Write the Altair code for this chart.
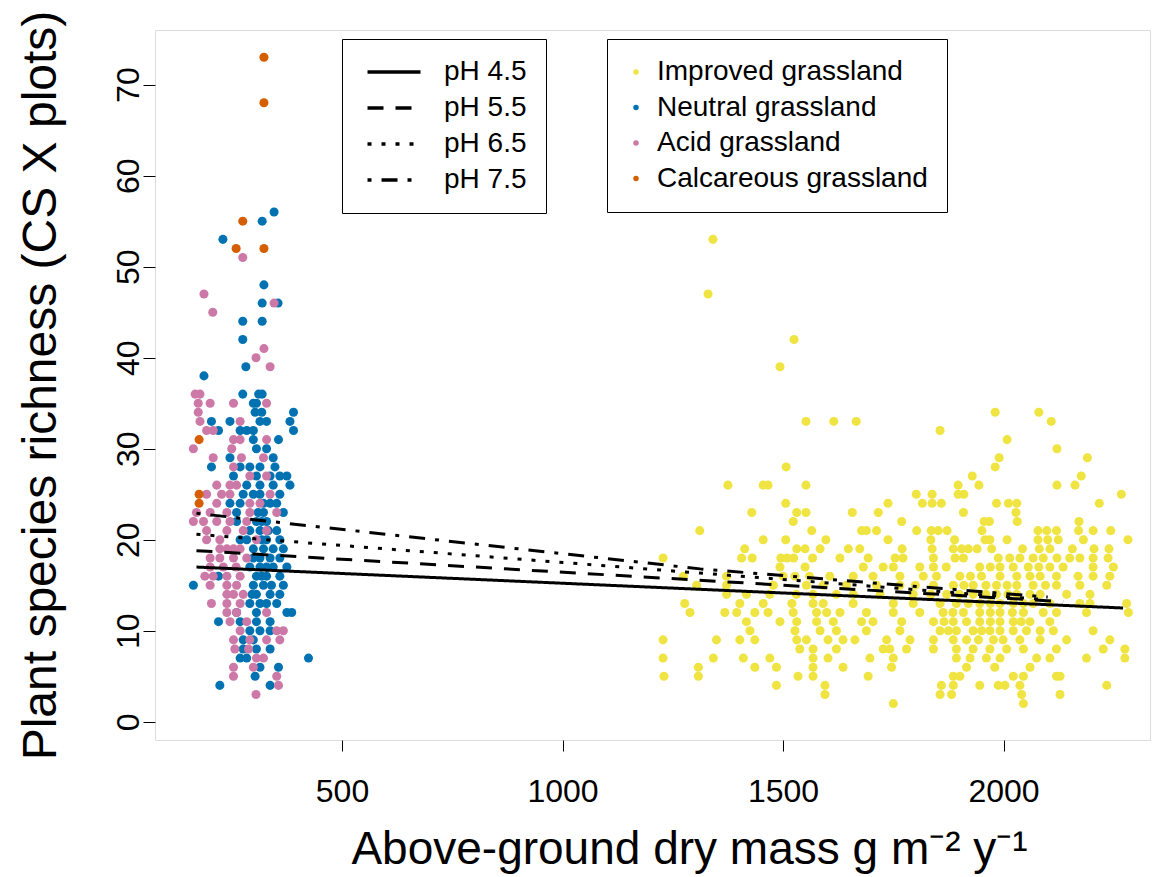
import altair as alt
import pandas as pd

# ---------------- data ----------------
group_names = ["Improved grassland", "Neutral grassland", "Acid grassland", "Calcareous grassland"]
group_colors = ["#F0E442", "#0072B2", "#CC79A7", "#D55E00"]

# Improved grassland: richness rows and the masses seen on each row
improved_rows_y = [53, 47, 42, 39, 34, 33, 32, 31, 30, 29, 28, 27, 26, 25, 24, 23, 22, 21, 20, 19,
                   18, 17, 16, 15, 14, 13, 12, 11, 10, 9, 8, 7, 6, 5, 4, 3, 2]
improved_rows_x = [
    [1341], [1330], [1525], [1493], [1981, 2080], [1552, 1615, 1666, 2108], [1856], [2008], [2121],
    [1990, 2190], [1507, 1981], [1929, 2176],
    [1375, 1455, 1466, 1552, 1897, 1944, 2121, 2162],
    [1802, 1838, 1897, 1910, 2267],
    [1506, 1738, 1816, 1838, 1859, 1984, 2011, 2030, 2217],
    [1429, 1531, 1552, 1657, 1716, 1909, 2028],
    [1523, 1769, 1956, 1968, 2031, 2171],
    [1311, 1565, 1678, 1689, 1712, 1803, 1836, 1852, 1872, 1951, 2078, 2098, 2120, 2170, 2203, 2243],
    [1455, 1506, 1597, 1738, 1835, 1889, 1958, 1969, 2008, 2078, 2100, 2124, 2181, 2282],
    [1413, 1531, 1550, 1584, 1648, 1674, 1770, 1838, 1886, 1905, 1920, 1940, 1973, 2043, 2081, 2105,
     2156, 2205, 2239],
    [1228, 1406, 1430, 1495, 1509, 1524, 1567, 1629, 1693, 1754, 1772, 1841, 1890, 1909, 1988, 2014,
     2037, 2067, 2090, 2121, 2150, 2173, 2203, 2237],
    [1493, 1550, 1682, 1727, 1750, 1810, 1841, 1870, 1946, 1970, 1992, 2022, 2056, 2080, 2105, 2135,
     2203, 2249],
    [1274, 1372, 1500, 1527, 1560, 1606, 1659, 1704, 1765, 1818, 1848, 1901, 1925, 1950, 1992, 2030,
     2060, 2083, 2120, 2169, 2203, 2241],
    [1304, 1372, 1478, 1553, 1591, 1644, 1712, 1765, 1800, 1841, 1886, 1910, 1931, 1960, 1984, 2008,
     2030, 2067, 2095, 2120, 2173, 2234],
    [1372, 1417, 1470, 1530, 1568, 1621, 1659, 1720, 1795, 1835, 1871, 1900, 1931, 1960, 1984, 2010,
     2030, 2060, 2083, 2143, 2196],
    [1277, 1402, 1455, 1520, 1568, 1591, 1659, 1750, 1795, 1856, 1893, 1920, 1946, 1970, 1992, 2022,
     2045, 2067, 2105, 2173, 2196, 2279],
    [1289, 1368, 1395, 1436, 1466, 1523, 1576, 1599, 1629, 1689, 1750, 1810, 1863, 1885, 1909, 1946,
     1970, 1992, 2020, 2045, 2090, 2120, 2188, 2283],
    [1417, 1493, 1531, 1576, 1614, 1678, 1704, 1769, 1841, 1865, 1886, 1916, 1946, 1970, 1992, 2022,
     2040, 2060, 2105],
    [1425, 1527, 1584, 1621, 1689, 1765, 1856, 1875, 1893, 1931, 1950, 1969, 1992, 2022, 2052, 2083,
     2113, 2203],
    [1228, 1349, 1402, 1436, 1531, 1553, 1602, 1636, 1663, 1735, 1788, 1841, 1886, 1916, 1943, 1977,
     1999, 2037, 2083, 2143, 2241],
    [1538, 1568, 1621, 1727, 1742, 1780, 1841, 1893, 1931, 1969, 2007, 2045, 2120, 2226, 2275],
    [1228, 1342, 1410, 1470, 1568, 1602, 1697, 1750, 1893, 1924, 1961, 1992, 2075, 2105, 2188, 2275],
    [1308, 1436, 1485, 1568, 1636, 1746, 1916, 1980, 2060],
    [1230, 1308, 1534, 1568, 1693, 1886, 1901, 2022, 2045, 2120, 2128],
    [1485, 1595, 1859, 1886, 1946, 1988, 2003, 2037, 2234],
    [1595, 1856, 1882, 2041, 2128],
    [1750, 2045],
]

# Neutral grassland
neutral_rows_y = [56, 55, 53, 48, 46, 44, 42, 39, 38, 36, 35, 34, 33, 32, 31, 30, 29, 28, 27, 26, 25,
                  24, 23, 22, 21, 20, 19, 18, 17, 16, 15, 14, 13, 12, 11, 10, 9, 8, 7, 6, 5, 4]
neutral_rows_x = [
    [346], [319], [230], [323], [319, 355], [275, 319], [275], [282], [187], [275, 311, 319],
    [299, 306], [303, 318, 390], [204, 246, 314, 329, 382], [220, 269, 284, 299, 390], [299, 356],
    [306, 329], [246, 344], [204, 269, 291, 314, 348], [254, 306, 337, 359, 375],
    [284, 314, 344, 382], [276, 299, 314, 359], [246, 269, 322, 337, 352], [261, 310, 322, 367],
    [261, 306, 318, 329], [291, 314, 333, 352], [269, 284, 318, 329, 359], [299, 322, 344, 367],
    [299, 314, 337, 359], [291, 314, 329, 344, 375], [220, 306, 318, 329, 359],
    [163, 299, 322, 340, 367], [296, 306, 337, 359], [291, 314, 329, 352], [261, 306, 375, 386],
    [220, 269, 306, 337], [291, 314, 337], [276, 299], [276, 306, 337], [269, 284, 424],
    [314, 356], [303], [223, 337],
]

# Acid grassland
acid_rows_y = [51, 47, 46, 45, 41, 40, 39, 36, 35, 34, 33, 32, 31, 30, 29, 28, 27, 26, 25, 24, 23,
               22, 21, 20, 19, 18, 17, 16, 15, 14, 13, 12, 11, 10, 9, 8, 7, 6, 5, 4, 3]
acid_rows_x = [
    [275], [187], [346], [207], [323], [305], [337], [167, 178], [174, 201, 254, 329], [174],
    [178, 269], [193, 208], [254, 269, 329], [163, 250], [208, 272, 322], [254], [291, 329],
    [216, 246, 261], [193, 227, 246, 337], [216, 291, 314], [170, 201, 239, 291, 352],
    [163, 186, 216, 246, 284], [193, 239, 276, 329], [193, 223, 306], [223, 239, 254, 269],
    [201, 223, 254, 284], [201, 231, 260], [189, 208, 239, 269], [201, 239, 261], [239, 254, 276],
    [204, 239, 269], [239, 261, 329], [246, 284], [269, 352, 367], [254, 291, 329, 359],
    [257, 288], [306, 322], [254, 299], [254, 352], [356], [305],
]

# Calcareous grassland
calcareous_x = [323, 323, 275, 260, 323, 176, 176, 176]
calcareous_y = [73, 68, 55, 52, 52, 31, 25, 24]

# Fitted lines at four pH values
line_names = ["pH 4.5", "pH 5.5", "pH 6.5", "pH 7.5"]
line_dashes = [[1, 0], [16, 12], [4, 10], [4, 10, 16, 10]]
ph45_x = [170, 2271]
ph45_y = [17.0, 12.5]
ph55_x = [170, 2135]
ph55_y = [18.8, 13.2]
ph65_x = [170, 2100]
ph65_y = [20.6, 13.4]
ph75_x = [170, 1312, 2100]
ph75_y = [22.9, 16.8, 13.7]

x_ticks = [500, 1000, 1500, 2000]
y_ticks = [0, 10, 20, 30, 40, 50, 60, 70]

# ---------------- tables ----------------
pts = []
for name, ys, xss in [(group_names[0], improved_rows_y, improved_rows_x),
                      (group_names[1], neutral_rows_y, neutral_rows_x),
                      (group_names[2], acid_rows_y, acid_rows_x)]:
    for yv, xs in zip(ys, xss):
        for xv in xs:
            pts.append({"mass": xv, "rich": yv, "group": name})
for xv, yv in zip(calcareous_x, calcareous_y):
    pts.append({"mass": xv, "rich": yv, "group": group_names[3]})
points_df = pd.DataFrame(pts)

lns = []
for name, xs, ys in zip(line_names, [ph45_x, ph55_x, ph65_x, ph75_x], [ph45_y, ph55_y, ph65_y, ph75_y]):
    for i, (xv, yv) in enumerate(zip(xs, ys)):
        lns.append({"mass": xv, "rich": yv, "ph": name, "i": i})
lines_df = pd.DataFrame(lns)

FONT = "Liberation Sans"

x_scale = alt.Scale(domain=[76, 2332], nice=False, zero=False)
y_scale = alt.Scale(domain=[-2, 76], nice=False, zero=False)

x_axis = alt.Axis(values=x_ticks, format="d", grid=False, domain=False, tickSize=11, tickColor="black",
                  labelFontSize=32, labelColor="black", labelBaseline="alphabetic", labelPadding=50,
                  labelFont=FONT, title="Above-ground dry mass g m\u207b\u00b2 y\u207b\u00b9",
                  titleFontSize=46, titleFont=FONT, titleFontWeight="normal", titleColor="black",
                  titleX=534, titleY=123, titleAlign="center", titleBaseline="alphabetic")
y_axis = alt.Axis(values=y_ticks, format="d", grid=False, domain=False, tickSize=12, tickColor="black",
                  labelFontSize=32, labelColor="black", labelAngle=270, labelAlign="center",
                  labelBaseline="alphabetic", labelPadding=5, labelFont=FONT,
                  title="Plant species richness (CS X plots)", titleFontSize=48, titleFont=FONT,
                  titleFontWeight="normal", titleColor="black", titleAngle=270, titleX=-100,
                  titleY=355, titleAlign="center", titleBaseline="alphabetic")

points = alt.Chart(points_df).mark_circle(size=82, opacity=1).encode(
    x=alt.X("mass:Q", scale=x_scale, axis=x_axis),
    y=alt.Y("rich:Q", scale=y_scale, axis=y_axis),
    color=alt.Color("group:N", scale=alt.Scale(domain=group_names, range=group_colors),
                    legend=alt.Legend(orient="none", legendX=452, legendY=9, title=None,
                                      strokeColor="black", fillColor="white", padding=19,
                                      symbolType="circle", symbolSize=30, symbolOffset=-4,
                                      symbolStrokeWidth=0, labelFontSize=28, labelFont=FONT,
                                      labelColor="black", labelOffset=7, rowPadding=7.5,
                                      labelLimit=0)),
)

lines = alt.Chart(lines_df).mark_line(color="black", strokeWidth=3).encode(
    x=alt.X("mass:Q", scale=x_scale),
    y=alt.Y("rich:Q", scale=y_scale),
    order="i:Q",
    strokeDash=alt.StrokeDash("ph:N", scale=alt.Scale(domain=line_names, range=line_dashes),
                              legend=alt.Legend(orient="none", legendX=187, legendY=9, title=None,
                                                strokeColor="black", fillColor="white", padding=19,
                                                symbolType="M-2.65,0H2.65", symbolSize=400,
                                                symbolOffset=19, symbolStrokeWidth=3.5,
                                                symbolStrokeColor="black", labelFontSize=28,
                                                labelFont=FONT, labelColor="black", labelOffset=36,
                                                rowPadding=8, labelLimit=0)),
)

chart = alt.layer(points, lines).properties(
    width=995, height=710,
    autosize=alt.AutoSizeParams(type="none"),
    padding={"left": 155, "top": 30, "right": 3, "bottom": 137},
).configure_view(stroke="black", strokeWidth=1.5).configure(background="white")

chart.save("out.html", embed_options={"renderer": "svg", "actions": False})
